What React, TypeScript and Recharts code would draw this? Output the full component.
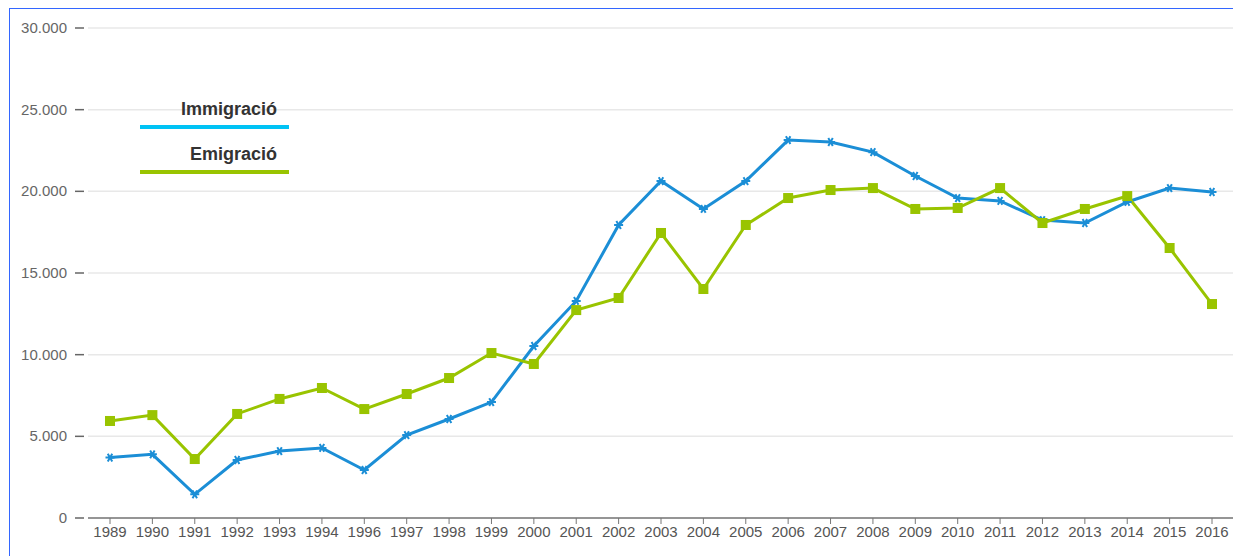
import { LineChart, Line, XAxis, YAxis, CartesianGrid } from 'recharts';

const years = [
  '1989', '1990', '1991', '1992', '1993', '1994', '1996', '1997', '1998', '1999',
  '2000', '2001', '2002', '2003', '2004', '2005', '2006', '2007', '2008', '2009',
  '2010', '2011', '2012', '2013', '2014', '2015', '2016',
];

const immigracio = [
  3700, 3900, 1450, 3550, 4100, 4290, 2940, 5080, 6060, 7100,
  10530, 13290, 17940, 20630, 18920, 20630, 23140, 23020, 22400, 20940,
  19590, 19410, 18240, 18060, 19350, 20200, 19960,
];

const emigracio = [
  5940, 6300, 3610, 6370, 7290, 7960, 6670, 7590, 8570, 10100,
  9430, 12730, 13470, 17450, 14020, 17940, 19590, 20080, 20200, 18920,
  18980, 20200, 18060, 18920, 19710, 16530, 13100,
];

const yTicks = [0, 5000, 10000, 15000, 20000, 25000, 30000];

const data = years.map((year, i) => ({
  year,
  immigracio: immigracio[i],
  emigracio: emigracio[i],
}));

const BLUE = '#1b8ed6';
const GREEN = '#99c400';
const FONT = '"Liberation Sans", Arial, sans-serif';

const fmt = (v: number) => v.toLocaleString('de-DE');

function YTick(props: any) {
  const { x, y, payload } = props;
  return (
    <g>
      <text x={x - 21} y={y} dy={5} textAnchor="end" fontSize={15} fill="#666" fontFamily={FONT}>
        {fmt(payload.value)}
      </text>
      <line x1={x - 13} x2={x - 4} y1={y} y2={y} stroke="#666" strokeWidth={1.5} />
    </g>
  );
}

function StarDot(props: any) {
  const { cx, cy } = props;
  if (cx == null || cy == null) return null;
  const r = 4.5;
  const d = [0, 60, 120].map((a) => {
    const t = (a * Math.PI) / 180;
    return `M${cx - r * Math.cos(t)},${cy - r * Math.sin(t)}L${cx + r * Math.cos(t)},${cy + r * Math.sin(t)}`;
  }).join('');
  return <path d={d} stroke={BLUE} strokeWidth={2} fill="none" />;
}

function SquareDot(props: any) {
  const { cx, cy } = props;
  if (cx == null || cy == null) return null;
  return <rect x={cx - 5} y={cy - 5} width={10} height={10} fill={GREEN} />;
}

const legendItems = [
  { label: 'Immigració', color: '#00c3f5' },
  { label: 'Emigració', color: '#99c400' },
];

function LegendBox() {
  return (
    <div style={{ position: 'absolute', left: 140, top: 97, width: 149, fontFamily: FONT }}>
      {legendItems.map((it) => (
        <div key={it.label} style={{ height: 45 }}>
          <div style={{ textAlign: 'right', paddingRight: 12, fontSize: 18, fontWeight: 'bold', color: '#333', lineHeight: '24px' }}>
            {it.label}
          </div>
          <div style={{ height: 4, background: it.color, marginTop: 4 }} />
        </div>
      ))}
    </div>
  );
}

export default function App() {
  return (
    <div style={{ position: 'absolute', left: 0, top: 0, width: 1233, height: 556, background: '#fff', overflow: 'hidden' }}>
      <div style={{ position: 'absolute', left: 9, top: 8, width: 1300, height: 600, borderLeft: '1.5px solid #3366ff', borderTop: '1.5px solid #3366ff' }} />
      <div style={{ position: 'absolute', left: 0, top: 0 }}>
        <LineChart width={1233} height={556} data={data} margin={{ top: 28, right: 0, bottom: 0, left: 0 }}>
          <CartesianGrid vertical={false} stroke="#e8e8e8" strokeWidth={1.5} />
          <XAxis
            dataKey="year"
            interval={0}
            height={38}
            padding={{ left: 22, right: 21 }}
            stroke="#777"
            axisLine={{ stroke: '#777', strokeWidth: 1.5 }}
            tickLine={{ stroke: '#777' }}
            tickSize={6}
            tick={{ fontSize: 15, fill: '#555', fontFamily: FONT }}
          />
          <YAxis
            width={88}
            domain={[0, 30000]}
            ticks={yTicks}
            axisLine={false}
            tickLine={false}
            tickSize={0}
            tickMargin={0}
            tick={<YTick />}
          />
          <Line
            type="linear"
            dataKey="immigracio"
            stroke={BLUE}
            strokeWidth={3}
            dot={<StarDot />}
            activeDot={false}
            isAnimationActive={false}
          />
          <Line
            type="linear"
            dataKey="emigracio"
            stroke={GREEN}
            strokeWidth={3}
            dot={<SquareDot />}
            activeDot={false}
            isAnimationActive={false}
          />
        </LineChart>
      </div>
      <LegendBox />
    </div>
  );
}
